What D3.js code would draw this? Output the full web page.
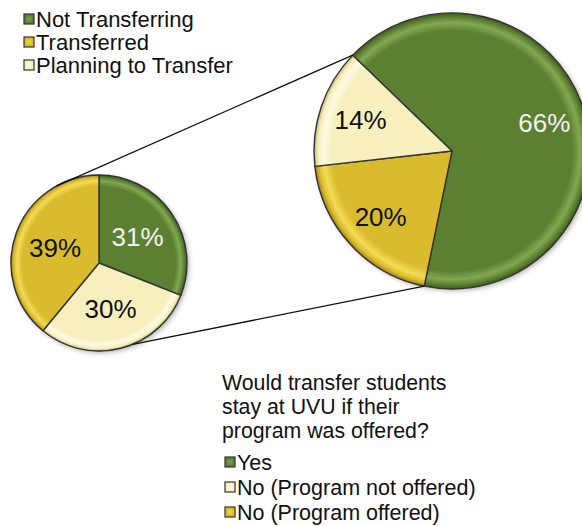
<!DOCTYPE html>
<html>
<head>
<meta charset="utf-8">
<script src="https://cdn.jsdelivr.net/npm/d3@7"></script>
<style>
  body { margin: 0; background: #fff; }
  svg { display: block; font-family: "Liberation Sans", Arial, sans-serif; }
</style>
</head>
<body>
<svg width="582" height="526"></svg>
<script>
// small pie: all transfer status
const statusLabels = ["Not Transferring", "Planning to Transfer", "Transferred"];
const statusValues = [31, 30, 39];
const statusLegend = ["Not Transferring", "Transferred", "Planning to Transfer"];

// big pie: would they stay
const stayLabels = ["Yes", "No (Program offered)", "No (Program not offered)"];
const stayValues = [66, 20, 14];
const stayLegend = ["Yes", "No (Program not offered)", "No (Program offered)"];

const titleLines = ["Would transfer students", "stay at UVU if their", "program was offered?"];

const colors = {
  "Not Transferring": "green", "Yes": "green",
  "Transferred": "gold", "No (Program offered)": "gold",
  "Planning to Transfer": "cream", "No (Program not offered)": "cream"
};
const palette = {
  green: {base: "#5c8032", light: "#82a852", dark: "#3e5a1c", text: "#f2f2f2"},
  gold:  {base: "#dabb2e", light: "#f3dc55", dark: "#9c8216", text: "#111"},
  cream: {base: "#f7efbd", light: "#fffbe4", dark: "#c4b880", text: "#111"}
};

const svg = d3.select("svg");
const defs = svg.append("defs");
const rad = deg => deg * Math.PI / 180;

// gradient lives in the pie group's own coords, so centre is 0,0
function makeGrad(id, r, c) {
  const g = defs.append("radialGradient").attr("id", id)
    .attr("gradientUnits", "userSpaceOnUse")
    .attr("cx", 0).attr("cy", 0).attr("r", r);
  [[0, c.base], [0.87, c.base], [0.93, c.light], [0.97, c.base], [1, c.dark]]
    .forEach(s => g.append("stop").attr("offset", s[0]).attr("stop-color", s[1]));
}

const shadow = defs.append("filter").attr("id", "shadow")
  .attr("x", "-20%").attr("y", "-20%").attr("width", "140%").attr("height", "140%");
shadow.append("feDropShadow").attr("dx", 2).attr("dy", 2).attr("stdDeviation", 2.5)
  .attr("flood-color", "#000").attr("flood-opacity", 0.3);

function drawPie(id, labels, values, cx, cy, r, start, labelR) {
  Object.keys(palette).forEach(k => makeGrad(id + k, r, palette[k]));
  const pie = d3.pie().sort(null).value(d => d.v)
    .startAngle(rad(start)).endAngle(rad(start) + 2 * Math.PI);
  const arcs = pie(labels.map((l, i) => ({l: l, v: values[i]})));
  const arc = d3.arc().innerRadius(0).outerRadius(r);
  const labelArc = d3.arc().innerRadius(labelR * r).outerRadius(labelR * r);
  const g = svg.append("g").attr("transform", `translate(${cx},${cy})`);
  g.append("circle").attr("r", r).attr("fill", "#fff").attr("filter", "url(#shadow)");
  g.selectAll("path").data(arcs).join("path")
    .attr("d", arc)
    .attr("fill", d => `url(#${id}${colors[d.data.l]})`)
    .attr("stroke", "#333").attr("stroke-width", 1.4).attr("stroke-linejoin", "round");
  g.selectAll("text").data(arcs).join("text")
    .attr("transform", d => `translate(${labelArc.centroid(d)})`)
    .attr("text-anchor", "middle").attr("dy", "0.36em")
    .attr("font-size", 26)
    .attr("fill", d => palette[colors[d.data.l]].text)
    .text(d => d.data.v + "%");
  return arcs;
}

const small = {cx: 99, cy: 263, r: 88};
const big = {cx: 452, cy: 151, r: 138};

drawPie("s", statusLabels, statusValues, small.cx, small.cy, small.r, 0, 0.53);
const bigArcs = drawPie("b", stayLabels, stayValues, big.cx, big.cy, big.r, -46, 0.7);

// connector lines from the small pie to the breakdown pie
const onCircle = (c, a) => [c.cx + c.r * Math.sin(a), c.cy - c.r * Math.cos(a)];
const linePairs = [
  [rad(-29), bigArcs[2].endAngle],
  [rad(157.5), bigArcs[1].startAngle]
];
linePairs.forEach(p => {
  const a = onCircle(small, p[0]), b = onCircle(big, p[1]);
  svg.append("line").attr("x1", a[0]).attr("y1", a[1]).attr("x2", b[0]).attr("y2", b[1])
    .attr("stroke", "#111").attr("stroke-width", 1.3);
});

function legend(items, x, y0, step, fs) {
  const g = svg.append("g");
  items.forEach((l, i) => {
    const c = palette[colors[l]];
    const y = y0 + i * step;
    g.append("rect").attr("x", x).attr("y", y - 13).attr("width", 10).attr("height", 10)
      .attr("fill", c.base).attr("stroke", "#333").attr("stroke-width", 1.2);
    g.append("rect").attr("x", x + 2.5).attr("y", y - 10.5).attr("width", 5).attr("height", 5)
      .attr("fill", c.light).attr("opacity", 0.6);
    g.append("text").attr("x", x + 12).attr("y", y).attr("font-size", fs)
      .attr("fill", "#111").text(l);
  });
}

legend(statusLegend, 24, 27, 23, 22);

svg.append("g").selectAll("text").data(titleLines).join("text")
  .attr("x", 222).attr("y", (d, i) => 390 + i * 24)
  .attr("font-size", 21.3).attr("fill", "#111").text(d => d);

legend(stayLegend, 225, 470, 25, 21.5);
</script>
</body>
</html>
